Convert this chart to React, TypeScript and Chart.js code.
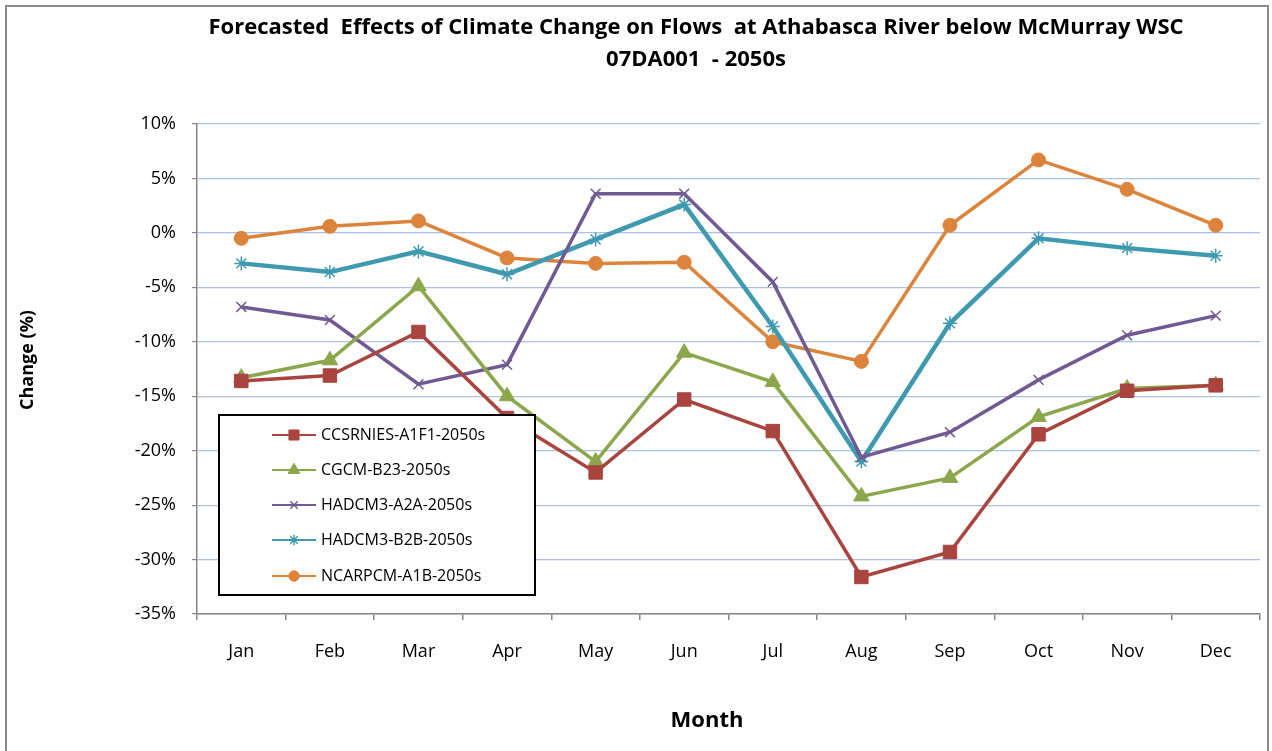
import React, { useEffect, useRef } from "react";
import { Chart, registerables } from "chart.js";
import { drawPoint } from "chart.js/helpers";

Chart.register(...registerables);

const months = ["Jan", "Feb", "Mar", "Apr", "May", "Jun", "Jul", "Aug", "Sep", "Oct", "Nov", "Dec"];
const ccsrnies = [-13.6, -13.1, -9.1, -17.0, -22.0, -15.3, -18.2, -31.6, -29.3, -18.5, -14.5, -14.0];
const cgcm = [-13.3, -11.7, -4.9, -15.0, -21.0, -11.0, -13.7, -24.2, -22.5, -16.9, -14.3, -14.0];
const hadA2A = [-6.8, -8.0, -13.9, -12.1, 3.6, 3.6, -4.5, -20.6, -18.3, -13.5, -9.4, -7.6];
const hadB2B = [-2.8, -3.6, -1.7, -3.8, -0.6, 2.6, -8.6, -21.0, -8.3, -0.5, -1.4, -2.1];
const ncar = [-0.5, 0.6, 1.1, -2.3, -2.8, -2.7, -10.0, -11.8, 0.7, 6.7, 4.0, 0.7];
const yTicks = [10, 5, 0, -5, -10, -15, -20, -25, -30, -35];
const titleLines = ["Forecasted  Effects of Climate Change on Flows  at Athabasca River below McMurray WSC", "07DA001  - 2050s"];

const FONT = "'Open Sans', Lato, sans-serif";

const customPlugin = {
  id: "custom",
  afterDraw(chart: any) {
    const ctx = chart.ctx;
    ctx.save();
    // title
    ctx.fillStyle = "#000";
    ctx.font = `bold 22px ${FONT}`;
    ctx.textAlign = "center";
    ctx.textBaseline = "middle";
    ctx.fillText(titleLines[0], 696, 28);
    ctx.fillText(titleLines[1], 696, 60);
    // axis titles
    ctx.font = `bold 22px ${FONT}`;
    ctx.fillText("Month", 707, 721);
    ctx.save();
    ctx.translate(28, 360);
    ctx.rotate(-Math.PI / 2);
    ctx.font = `bold 18px ${FONT}`;
    ctx.fillText("Change (%)", 0, 0);
    ctx.restore();
    // legend
    const bx = 219, by = 415, bw = 316, bh = 180;
    ctx.fillStyle = "#fff";
    ctx.fillRect(bx, by, bw, bh);
    ctx.strokeStyle = "#000";
    ctx.lineWidth = 2;
    ctx.strokeRect(bx, by, bw, bh);
    const rows = [435, 470, 505, 540, 576];
    chart.data.datasets.forEach((ds: any, i: number) => {
      const y = rows[i];
      ctx.strokeStyle = ds.borderColor;
      ctx.lineWidth = 2;
      ctx.beginPath();
      ctx.moveTo(272, y);
      ctx.lineTo(316, y);
      ctx.stroke();
      ctx.fillStyle = ds.backgroundColor;
      ctx.strokeStyle = ds.pointBorderColor;
      ctx.lineWidth = ds.pointBorderWidth;
      drawPoint(ctx, { pointStyle: ds.pointStyle, radius: ds.pointRadius * 0.75, rotation: 0, borderWidth: ds.pointBorderWidth }, 294, y);
      ctx.fillStyle = "#000";
      ctx.font = `16px ${FONT}`;
      ctx.textAlign = "left";
      ctx.textBaseline = "middle";
      ctx.fillText(ds.label, 321, y);
    });
    ctx.restore();
  },
};

function mk(label: string, data: number[], color: string, style: string, radius: number, pbw: number, lw: number) {
  return {
    label,
    data,
    borderColor: color,
    backgroundColor: color,
    pointBackgroundColor: color,
    pointBorderColor: color,
    pointStyle: style,
    pointRadius: radius,
    pointBorderWidth: pbw,
    borderWidth: lw,
    tension: 0,
  };
}

export default function App() {
  const ref = useRef<HTMLCanvasElement>(null);
  useEffect(() => {
    const chart = new Chart(ref.current as HTMLCanvasElement, {
      type: "line",
      data: {
        labels: months,
        datasets: [
          mk("CCSRNIES-A1F1-2050s", ccsrnies, "#A9443F", "rect", 9.5, 1, 3.5),
          mk("CGCM-B23-2050s", cgcm, "#8BA64B", "triangle", 9, 1, 3.5),
          mk("HADCM3-A2A-2050s", hadA2A, "#705A92", "crossRot", 7, 1.5, 3.5),
          mk("HADCM3-B2B-2050s", hadB2B, "#3F9AB0", "star", 7, 1.5, 4.5),
          mk("NCARPCM-A1B-2050s", ncar, "#DD843C", "circle", 7, 1, 3.5),
        ] as any,
      },
      options: {
        animation: false,
        responsive: false,
        layout: { padding: { left: 0, right: 12, top: 124, bottom: 77 } },
        plugins: { legend: { display: false }, title: { display: false }, tooltip: { enabled: false } },
        scales: {
          x: {
            offset: true,
            grid: { offset: true, drawOnChartArea: false, drawTicks: true, tickLength: 6, color: "#868686", lineWidth: 1.5 },
            border: { color: "#868686", width: 1.5 },
            ticks: { color: "#000", font: { family: FONT, size: 18 }, padding: 21, maxRotation: 0 },
            afterFit: (s: any) => { s.height = 60; },
          },
          y: {
            min: -35,
            max: 10,
            afterBuildTicks: (s: any) => { s.ticks = yTicks.map((v) => ({ value: v })); },
            grid: { color: "#A9C0E8", lineWidth: 1.2, tickColor: "#868686", tickLength: 5 },
            border: { color: "#868686", width: 1.5 },
            ticks: { color: "#000", font: { family: FONT, size: 18 }, padding: 16, callback: (v: any) => v + "%" },
            afterFit: (s: any) => { s.width = 197; },
          },
        },
      },
      plugins: [customPlugin],
    } as any);
    return () => chart.destroy();
  }, []);
  return (
    <div style={{ position: "fixed", left: 0, top: 0, width: 1272, height: 751, background: "#fff" }}>
      <div style={{ position: "absolute", left: 5, top: 5, width: 1264, height: 760, border: "2px solid #8c8c8c", boxSizing: "border-box" }} />
      <canvas ref={ref} width={1272} height={751} style={{ position: "absolute", left: 0, top: 0 }} />
    </div>
  );
}
